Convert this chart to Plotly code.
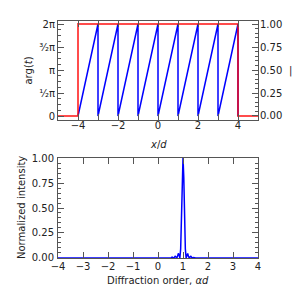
import math
import plotly.graph_objects as go

# --- data ---
# phase sawtooth (vertices): rises 0 -> 2pi over each period d, from x=-4 to x=4
saw_x = [-4, -3, -3, -2, -2, -1, -1, 0, 0, 1, 1, 2, 2, 3, 3, 4, 4]
saw_y = [0, 2*math.pi, 0, 2*math.pi, 0, 2*math.pi, 0, 2*math.pi, 0,
         2*math.pi, 0, 2*math.pi, 0, 2*math.pi, 0, 2*math.pi, 0]
# amplitude |t|
amp_x = [-5, -4, -4, 4, 4, 5]
amp_y = [0, 0, 1, 1, 0, 0]

# diffraction intensity
alpha = [-4, 0.5, 0.53125, 0.5625, 0.59375, 0.625, 0.65625, 0.6875, 0.71875, 0.75,
         0.78125, 0.8125, 0.84375, 0.875, 0.90625, 0.9375, 0.96875, 1.0,
         1.03125, 1.0625, 1.09375, 1.125, 1.15625, 1.1875, 1.21875, 1.25,
         1.28125, 1.3125, 1.34375, 1.375, 1.40625, 1.4375, 1.46875, 1.5, 4]
intensity = [0, 0, 0.0036, 0.0083, 0.0048, 0, 0.0067, 0.0162, 0.0100, 0,
             0.0165, 0.0450, 0.0324, 0, 0.0901, 0.4053, 0.8106, 1.0,
             0.8106, 0.4053, 0.0901, 0, 0.0324, 0.0450, 0.0165, 0,
             0.0100, 0.0162, 0.0067, 0, 0.0048, 0.0083, 0.0036, 0, 0]

phase_tickvals = [0, math.pi/2, math.pi, 3*math.pi/2, 2*math.pi]
phase_ticktext = ["0", "¹⁄₂π", "π", "³⁄₂π", "2π"]
top_xticks = [-4, -2, 0, 2, 4]
amp_ticks = [0, 0.25, 0.5, 0.75, 1.0]

FONT = "DejaVu Sans"
AX = "#555555"
TXT = "#222222"
FS = 10

fig = go.Figure()
fig.add_trace(go.Scatter(x=saw_x, y=saw_y, xaxis="x", yaxis="y", mode="lines",
                         line=dict(color="blue", width=1.5), showlegend=False))
fig.add_trace(go.Scatter(x=amp_x, y=amp_y, xaxis="x", yaxis="y2", mode="lines",
                         line=dict(color="rgba(255,0,0,0.7)", width=2), showlegend=False))
fig.add_trace(go.Scatter(x=alpha, y=intensity, xaxis="x2", yaxis="y3", mode="lines",
                         line=dict(color="blue", width=1.5), showlegend=False))

common = dict(showline=True, linecolor=AX, linewidth=1, showgrid=False, zeroline=False,
              automargin=False,
              ticks="inside", tickcolor=AX, tickfont=dict(family=FONT, size=FS, color=TXT))
tfont = dict(family=FONT, size=FS, color=TXT)

# plot area: x 50..250, y 13..250 px
fig.update_layout(
    width=300, height=288, margin=dict(l=50, r=50, t=13, b=38),
    plot_bgcolor="white", paper_bgcolor="white",
    font=dict(family=FONT, size=FS, color=TXT),
    xaxis=dict(domain=[0, 1], anchor="y", range=[-5, 5], tickvals=top_xticks,
               ticklen=6, mirror="allticks", ticklabelstandoff=-4,
               minor=dict(ticks="inside", dtick=1, tick0=0, ticklen=3, tickcolor=AX),
               **common),
    yaxis=dict(domain=[0.5823, 1], anchor="x", range=[-0.273, 6.488],
               tickvals=phase_tickvals, ticktext=phase_ticktext, ticklen=6, mirror=True,
               ticklabelstandoff=0,
               minor=dict(ticks="inside", dtick=math.pi/8, tick0=0, ticklen=3, tickcolor=AX),
               **common),
    yaxis2=dict(overlaying="y", side="right", anchor="x", range=[-0.0435, 1.033],
                tickvals=amp_ticks, tickformat=".2f", ticklen=6, ticklabelstandoff=-1,
                minor=dict(ticks="inside", dtick=0.05, tick0=0, ticklen=3, tickcolor=AX),
                **common),
    xaxis2=dict(domain=[0, 1], anchor="y3", range=[-4, 4], dtick=1, tick0=0, ticklen=6,
                mirror="allticks", ticklabelstandoff=-1,
                **common),
    yaxis3=dict(domain=[0, 0.4219], anchor="x2", range=[0, 1], dtick=0.25,
                tickformat=".2f", ticklen=6, mirror="allticks", ticklabelstandoff=1,
                minor=dict(ticks="inside", dtick=0.05, tick0=0, ticklen=3, tickcolor=AX),
                **common),
)

# axis titles (placed in paper coordinates of the plot area)
titles = [
    ("arg(<i>t</i>)", -0.145, 0.791, -90),
    ("|<i>t</i>|", 1.18, 0.791, 0),
    ("<i>x</i>/<i>d</i>", 0.5, 0.4768, 0),
    ("Normalized intensity", -0.18, 0.211, -90),
    ("Diffraction order, <i>αd</i>", 0.5, -0.097, 0),
]
for text, x, y, ang in titles:
    fig.add_annotation(text=text, x=x, y=y, xref="paper", yref="paper",
                       xanchor="center", yanchor="middle", showarrow=False,
                       textangle=ang, font=tfont)

fig.write_html("out.html")
